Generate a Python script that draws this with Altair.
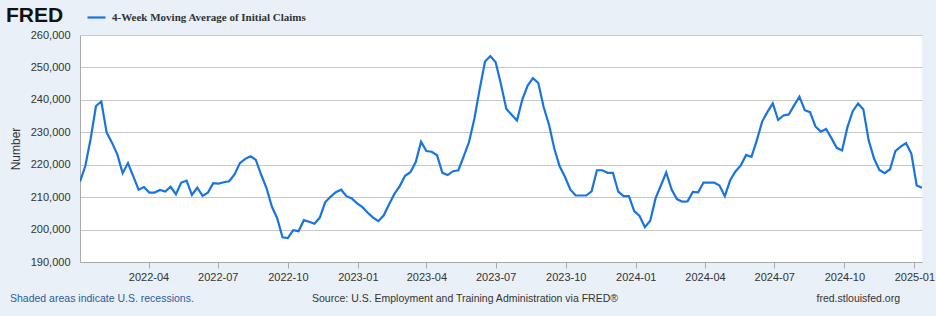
import altair as alt
import pandas as pd

# ---- data ----
start_date = "2022-01-01"   # weekly observations, week ending Saturday
claims = [
    214800, 219600, 228000, 238100, 239500, 229900, 226800, 223200, 217400, 220500,
    216400, 212300, 213100, 211400, 211400, 212200, 211700, 213200, 210900, 214500,
    215100, 210700, 212900, 210400, 211400, 214300, 214200, 214600, 214900, 217000,
    220500, 221800, 222600, 221500, 216900, 212800, 207100, 203500, 197600, 197400,
    199800, 199500, 202900, 202400, 201800, 203700, 208400, 210100, 211500, 212300,
    210300, 209600, 208100, 206900, 205200, 203700, 202600, 204400, 207800, 211000,
    213400, 216600, 217700, 220800, 227100, 224200, 224000, 222900, 217500, 216800,
    218000, 218300, 222600, 227000, 234200, 243300, 251800, 253500, 251600, 244700,
    237200, 235400, 233600, 240100, 244400, 246700, 245200, 237800, 232400, 225000,
    219500, 216300, 212400, 210500, 210500, 210500, 211800, 218300, 218300, 217500,
    217500, 211700, 210300, 210300, 205700, 204200, 200700, 202700, 209600, 213600,
    217600, 212400, 209400, 208600, 208700, 211600, 211500, 214500, 214500, 214500,
    213600, 210300, 215200, 217900, 219800, 223000, 222400, 227500, 233300, 236300,
    238900, 233800, 235200, 235500, 238300, 241000, 236800, 236200, 231800, 230200,
    231000, 228200, 225200, 224400, 231500, 236500, 238900, 237000, 227500, 221900,
    218400, 217400, 218600, 224200, 225600, 226700, 223400, 213600, 212900,
]
series_name = "4-Week Moving Average of Initial Claims"
x_tick_labels = ["2022-04", "2022-07", "2022-10", "2023-01", "2023-04", "2023-07",
                 "2023-10", "2024-01", "2024-04", "2024-07", "2024-10", "2025-01"]
y_ticks = [190000, 200000, 210000, 220000, 230000, 240000, 250000, 260000]
y_title = "Number"
footer_left = "Shaded areas indicate U.S. recessions."
footer_mid = "Source: U.S. Employment and Training Administration via FRED®"
footer_right = "fred.stlouisfed.org"
logo_text = "FRED"

# ---- build table ----
dates = pd.date_range(start_date, periods=len(claims), freq="7D")
df = pd.DataFrame({"date": dates, "value": claims, "series": series_name})
tick_dates = [alt.DateTime(year=int(t[:4]), month=int(t[5:]), date=1) for t in x_tick_labels]

BG = "#e9f0f8"
LINE = "#1a74e0"
TXT = "#333333"
GRID = "#c8c8c8"
FONT = "Liberation Sans"

line = alt.Chart(df).mark_line(strokeWidth=2.2, clip=True).encode(
    x=alt.X("date:T",
            scale=alt.Scale(domain=[dates[0].isoformat(), dates[-1].isoformat()], nice=False),
            axis=alt.Axis(title=None, format="%Y-%m", values=tick_dates, grid=False,
                          tickSize=6, tickColor="#aaaaaa", domainColor="#aaaaaa",
                          labelFont=FONT, labelFontSize=11, labelColor=TXT,
                          labelPadding=3, labelOverlap=False)),
    y=alt.Y("value:Q",
            scale=alt.Scale(domain=[y_ticks[0], y_ticks[-1]], nice=False, zero=False),
            axis=alt.Axis(title=y_title, values=y_ticks, format=",d", grid=True,
                          gridColor=GRID, gridWidth=1, ticks=False,
                          domainColor="#aaaaaa", labelFont=FONT, labelFontSize=11,
                          labelColor=TXT, labelPadding=10, titleFont=FONT,
                          titleFontSize=12, titleFontWeight="normal", titleColor=TXT,
                          titlePadding=8)),
    color=alt.Color("series:N",
                    scale=alt.Scale(range=[LINE]),
                    legend=alt.Legend(title=None, orient="none", legendX=6, legendY=-28,
                                      symbolType="stroke", symbolSize=324,
                                      symbolStrokeWidth=2.2, padding=0, labelLimit=0,
                                      labelFont="Liberation Serif", labelFontWeight="bold",
                                      labelFontSize=11, labelColor=TXT, labelOffset=5)),
)

one = alt.Data(values=[{"a": 1}])

def label(text, x, y, size=10.5, color=TXT, align="left", weight="normal", font=FONT):
    return alt.Chart(one).mark_text(
        text=text, align=align, baseline="alphabetic", fontSize=size, color=color,
        fontWeight=weight, font=font,
    ).encode(x=alt.value(x), y=alt.value(y))

logo = label(logo_text, -74, -13, size=21, color="#111111", weight="bold")
f_left = label(footer_left, -70, 267, color="#2a5ca0")
f_mid = label(footer_mid, 385, 267, align="center")
f_right = label(footer_right, 820, 267, align="right")

chart = alt.layer(line, logo, f_left, f_mid, f_right).properties(
    width=842, height=227,
    background=BG,
    padding={"left": 80, "top": 35, "right": 14, "bottom": 54},
    autosize=alt.AutoSizeParams(type="none"),
).configure_view(fill="white", stroke=None)

chart.save("out.html", embed_options={"renderer": "svg", "actions": False})
